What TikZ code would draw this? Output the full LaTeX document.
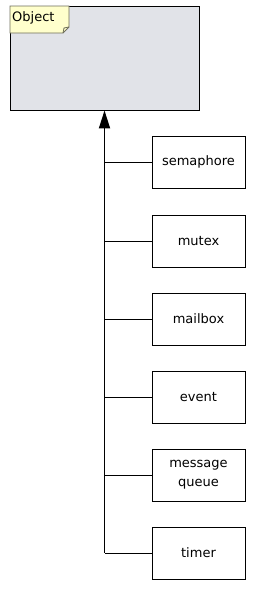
\documentclass[tikz,border=0pt]{standalone}
\usepackage{fontspec}
\setmainfont{DejaVu Sans}
\usetikzlibrary{arrows.meta,positioning}
\definecolor{objfill}{RGB}{225,227,232}
\definecolor{notefill}{RGB}{255,255,204}
\definecolor{noteline}{RGB}{110,110,90}
\begin{document}
\begin{tikzpicture}[x=1pt,y=-1pt,
  classbox/.style={draw=black,line width=0.9pt,minimum width=93pt,minimum height=52pt,inner sep=0pt,align=center,font=\fontsize{13}{19}\selectfont},
  link/.style={draw=black,line width=1pt}]
\useasboundingbox (0,0) rectangle (263,590);
\node[draw=black,line width=0.9pt,fill=objfill,minimum width=189pt,minimum height=104pt,inner sep=0pt] (obj) at (104.5,58) {};
% note label
\fill[notefill,draw=noteline,line width=0.8pt] (10,6) -- (69,6) -- (69,27) -- (63,33) -- (10,33) -- cycle;
\draw[noteline,line width=0.8pt] (63,33) -- (64,28) -- (69,27);
\node[anchor=west,inner sep=0pt,font=\fontsize{13}{15}\selectfont] (objlabel) at (12,18) {Object};
\node[classbox] (sem) at (198.5,162) {semaphore};
\node[classbox] (mtx) at (198.5,241) {mutex};
\node[classbox] (mbx) at (198.5,319) {mailbox};
\node[classbox] (evt) at (198.5,397) {event};
\node[classbox] (mq)  at (198.5,475) {message\\queue};
\node[classbox] (tmr) at (198.5,553) {timer};
\coordinate (trunkbot) at (tmr.west -| obj.south);
\draw[line width=1.8pt,-{Triangle[length=18pt,width=11pt]}] (trunkbot) -- (obj.south);
\foreach \b in {sem,mtx,mbx,evt,mq,tmr}{
  \draw[link] (\b.west) -- (\b.west -| obj.south);
}
\end{tikzpicture}
\end{document}
